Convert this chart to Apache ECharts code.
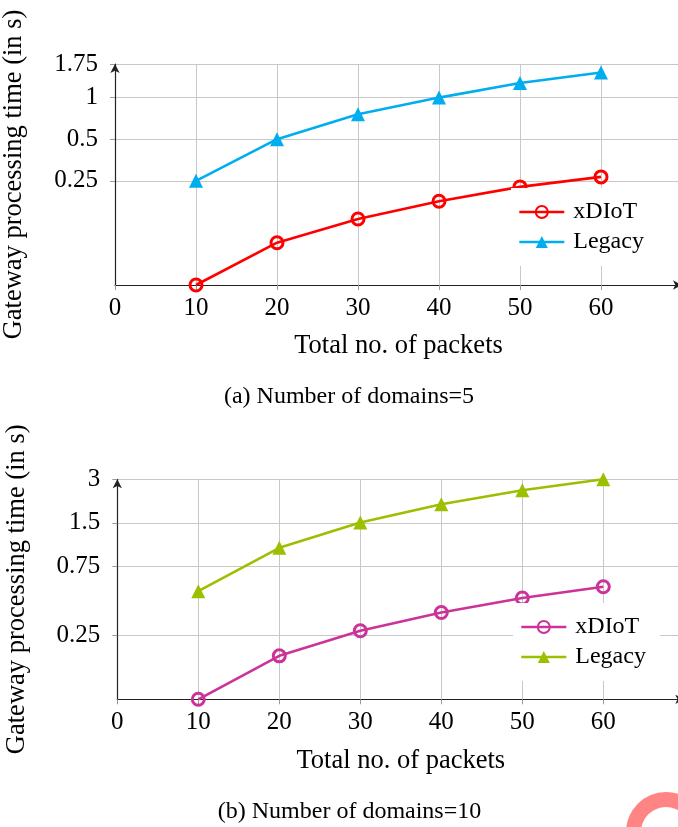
<!DOCTYPE html>
<html>
<head>
<meta charset="utf-8">
<script src="https://cdn.jsdelivr.net/npm/echarts@6/dist/echarts.min.js"></script>
<style>
html,body{margin:0;padding:0;background:#fff;}
#c{width:678px;height:827px;}
</style>
</head>
<body>
<div id="c"></div>
<script>
// ---- data ----
var packets = [10, 20, 30, 40, 50, 60];
var xTicks = [0, 10, 20, 30, 40, 50, 60];

var aXDIoT  = [0.0441, 0.0892, 0.1325, 0.178, 0.226, 0.267];
var aLegacy = [0.25, 0.5, 0.757, 1.0, 1.276, 1.52];
var aYTicks = [0.25, 0.5, 1, 1.75];

var bXDIoT  = [0.0907, 0.181, 0.270, 0.361, 0.454, 0.543];
var bLegacy = [0.506, 1.009, 1.51, 2.02, 2.52, 3.0];
var bYTicks = [0.25, 0.75, 1.5, 3];

var captionA = '(a) Number of domains=5';
var captionB = '(b) Number of domains=10';
var yTitle = 'Gateway processing time (in s)';
var xTitle = 'Total no. of packets';

var FONT = '"Liberation Serif", "Times New Roman", serif';
var GRID = '#c8c8c8';
var AXIS = '#222';

function pairs(xs, ys) { return xs.map(function (x, i) { return [x, ys[i]]; }); }

function xAxisCfg(gi) {
  return {
    gridIndex: gi, type: 'value', min: 0, max: 70, interval: 10,
    name: xTitle, nameLocation: 'middle', nameGap: 48,
    nameTextStyle: { fontFamily: FONT, fontSize: 26.5, color: '#000' },
    axisLine: { show: true, onZero: false, symbol: ['none', 'arrow'], symbolSize: [7, 9], lineStyle: { color: AXIS, width: 1.2 } },
    axisTick: { show: true, length: 5, lineStyle: { color: '#999' } },
    axisLabel: { margin: 11, fontFamily: FONT, fontSize: 25, color: '#000', customValues: xTicks },
    splitLine: { show: true, lineStyle: { color: GRID, width: 1 } }
  };
}
function yAxisCfg(gi, mn, mx, ticks) {
  return {
    gridIndex: gi, type: 'log', logBase: 2, min: mn, max: mx,
    name: yTitle, nameLocation: 'middle', nameGap: 87,
    nameTextStyle: { fontFamily: FONT, fontSize: 26.5, color: '#000' },
    axisLine: { show: true, symbol: ['none', 'arrow'], symbolSize: [7, 9], lineStyle: { color: AXIS, width: 1.2 } },
    axisTick: { show: true, length: 5, lineStyle: { color: '#999' }, customValues: ticks },
    axisLabel: { margin: 17, fontFamily: FONT, fontSize: 25, color: '#000', customValues: ticks },
    splitLine: { show: true, lineStyle: { color: GRID, width: 1 } },
    minorSplitLine: { show: false }
  };
}
function lineSeries(name, xi, data, color, symbol, size, hollow) {
  return {
    name: name, type: 'line', xAxisIndex: xi, yAxisIndex: xi,
    data: data, symbol: symbol, symbolSize: size, showAllSymbol: true,
    lineStyle: { color: color, width: 2.6 },
    itemStyle: hollow ? { color: 'rgba(255,255,255,0)', borderColor: color, borderWidth: 3 } : { color: color, borderWidth: 0 },
    emphasis: { disabled: true },
    animation: false, z: 3
  };
}
function legendCfg(names, left, top) {
  return {
    data: names, orient: 'vertical', left: left, top: top, backgroundColor: '#fff',
    padding: [12, 14, 12, 7], itemWidth: 45, itemHeight: 15, itemGap: 6,
    lineStyle: { width: 2.6 },
    formatter: function (n) { return n.slice(2); },
    textStyle: { fontFamily: FONT, fontSize: 24, color: '#000', padding: [0, 0, 0, 4] },
    selectedMode: false
  };
}

var chart = echarts.init(document.getElementById('c'), null, { renderer: 'canvas' });
chart.setOption({
  backgroundColor: '#fff',
  animation: false,
  grid: [
    { left: 115, top: 64, width: 567, height: 221, containLabel: false, outerBoundsMode: 'none' },
    { left: 117.3, top: 479.3, width: 567, height: 220, containLabel: false, outerBoundsMode: 'none' }
  ],
  title: [
    { text: captionA, left: 344, top: 380, textAlign: 'center', textStyle: { fontFamily: FONT, fontSize: 24, fontWeight: 'normal', color: '#000' } },
    { text: captionB, left: 344.5, top: 795, textAlign: 'center', textStyle: { fontFamily: FONT, fontSize: 24, fontWeight: 'normal', color: '#000' } }
  ],
  xAxis: [xAxisCfg(0), xAxisCfg(1)],
  yAxis: [yAxisCfg(0, aXDIoT[0], 1.75, aYTicks), yAxisCfg(1, bXDIoT[0], 3, bYTicks)],
  legend: [
    legendCfg(['a-xDIoT', 'a-Legacy'], 511, 188),
    legendCfg(['b-xDIoT', 'b-Legacy'], 513, 603)
  ],
  series: [
    lineSeries('a-xDIoT', 0, pairs(packets, aXDIoT), '#ff0000', 'circle', 12, true),
    lineSeries('a-Legacy', 0, pairs(packets, aLegacy), '#00aeef', 'triangle', 14, false),
    lineSeries('b-xDIoT', 1, pairs(packets, bXDIoT), '#cc3399', 'circle', 12, true),
    lineSeries('b-Legacy', 1, pairs(packets, bLegacy), '#9cbf00', 'triangle', 14, false)
  ],
  graphic: [
    { type: 'ring', shape: { cx: 666, cy: 832, r: 40, r0: 25 }, style: { fill: '#ff8585' }, silent: true }
  ]
});
</script>
</body>
</html>
